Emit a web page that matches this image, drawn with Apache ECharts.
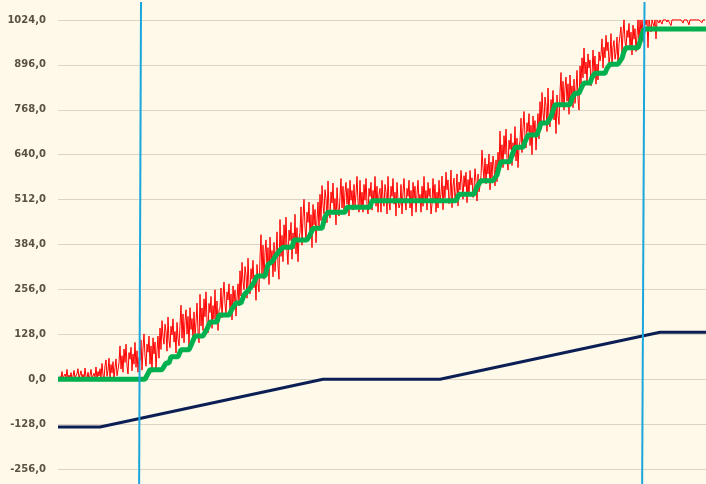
<!DOCTYPE html>
<html>
<head>
<meta charset="utf-8">
<script src="https://cdn.jsdelivr.net/npm/echarts@6/dist/echarts.min.js"></script>
<style>
html,body{margin:0;padding:0;background:#FFF9E9;overflow:hidden;width:706px;height:484px;}
#c{position:absolute;left:0;top:-25px;width:706px;height:539px;}
</style>
</head>
<body>
<div id="c"></div>
<script>
// Y axis ticks (-384 and 1152 fall just outside the visible window)
var yTicks = [-384, -256, -128, 0, 128, 256, 384, 512, 640, 768, 896, 1024, 1152];

// Navy reference ramp: [x, value]
var navyLine = [[0,-136],[42,-136],[265,0],[382,0],[602,134],[648,134]];

// Green stepped output: [x, value]
var greenLine = [
 [0,0],[87,0],[92,27],[104,27],[108,46],[111,46],[113,64],[120,64],[123,84],[131,84],
 [134,103],[137,123],[145,123],[149,143],[152,163],[159,163],[161,183],[171,183],[174,200],[178,217],
 [183,217],[186,240],[192,259],[196,276],[199,294],[207,294],[210,327],[214,335],[217,349],[222,368],
 [225,376],[234,376],[236,397],[249,397],[252,411],[255,430],[264,430],[267,463],[270,476],[287,476],
 [289,490],[312,490],[314,509],[398,509],[401,527],[416,527],[419,549],[423,566],[435,566],[439,582],
 [441,604],[443,620],[452,620],[454,639],[457,661],[465,661],[467,677],[470,696],[479,696],[481,712],
 [483,730],[489,730],[493,748],[495,765],[497,782],[512,782],[514,801],[517,815],[521,815],[524,834],
 [526,844],[532,844],[534,860],[537,872],[547,872],[549,886],[552,898],[560,898],[564,915],[566,934],
 [568,945],[580,945],[582,962],[584,981],[586,998],[648,998]
];

// Red noisy input, one sample per unit starting at x=2
var redValues = [
 10,0,22,3,0,15,6,28,0,12,2,19,0,8,25,4,0,16,30,2,
 0,24,5,14,0,32,8,2,20,0,11,28,3,0,17,6,35,1,22,9,
 30,5,45,12,0,38,55,8,25,60,3,42,18,50,0,33,58,10,27,47,
 95,29,67,20,86,48,100,38,15,76,57,91,24,72,43,105,34,81,20,62,
 54,112,26,89,129,66,37,100,77,123,43,95,20,118,72,106,31,83,123,60,
 146,85,167,121,100,157,136,80,177,111,90,151,126,172,106,136,75,162,116,95,
 154,211,117,186,104,167,198,129,179,92,204,142,173,111,192,123,161,217,136,104,
 242,152,203,139,229,178,249,165,132,216,190,236,145,210,171,255,158,223,139,197,
 203,260,175,237,277,215,186,249,226,272,192,243,169,266,220,254,180,232,272,209,
 309,237,333,279,255,321,297,231,345,267,243,315,285,339,261,297,225,327,273,249,
 345,412,300,382,285,360,397,315,375,270,405,330,367,292,390,307,352,420,322,285,
 455,350,410,335,440,380,462,365,327,425,395,447,342,417,372,470,357,432,335,402,
 418,491,382,462,513,433,397,476,447,505,404,469,375,498,440,484,389,455,505,426,
 527,452,552,496,471,540,515,446,565,484,459,534,502,559,477,515,440,546,490,465,
 521,572,488,550,476,533,561,499,544,465,567,510,538,482,555,493,527,578,505,476,
 567,488,533,476,555,510,572,499,471,544,521,561,482,538,505,578,493,550,476,527,
 544,476,567,516,493,555,533,471,578,505,482,550,521,572,499,533,465,561,510,488,
 499,555,471,533,572,510,482,544,521,567,488,538,465,561,516,550,476,527,567,505,
 527,476,550,493,578,505,538,482,561,521,544,471,499,572,510,555,476,533,488,567,
 506,528,579,483,551,517,590,540,568,500,523,596,489,551,573,511,534,585,494,562,
 539,595,559,513,580,549,590,503,569,523,595,554,574,518,544,600,564,508,585,534,
 551,580,653,602,568,630,557,613,585,642,540,619,574,636,608,551,625,563,647,596,
 707,616,668,603,694,642,713,629,596,681,655,700,609,674,635,720,622,687,603,661,
 679,744,646,718,763,692,659,731,705,757,666,724,640,750,698,737,653,711,757,685,
 791,713,817,758,732,804,778,706,830,745,719,797,765,823,739,778,700,810,752,726,
 817,874,780,849,767,830,861,792,842,755,867,805,836,774,855,786,824,880,799,767,
 893,841,916,859,944,870,904,847,927,887,910,836,864,938,876,921,841,898,853,933,
 907,926,970,887,946,916,980,936,961,902,921,985,892,946,965,912,931,975,897,956,
 954,1004,929,984,1024,964,939,994,974,1014,944,989,924,1009,969,999,934,979,1024,959,
 1024,985,1024,1024,960,1024,1010,1024,945,1024,1024,990,1024,1024,1005,1024,970,1024,1024,1015,
 1024,1024,1012,1024,1024,1024,1024,1018,1024,1024,1024,1008,1024,1024,1024,1024,1020,1024,1024,1024,
 1024,1024,1024,1015,1024,1024,1024,1024,1024,1010,1024,1024,1024,1024,1019,1024,1024,1024,1024,1024,
 1024,1024,1016,1024,1024,1024
];

// Blue vertical markers (slightly slanted): [x, value]
var markerA = [[83,1075],[81,-384]];
var markerB = [[586.5,1075],[584,-384]];

var redLine = redValues.map(function(v,i){ return [2 + i, v]; });

var chart = echarts.init(document.getElementById('c'), null, {renderer:'canvas'});
chart.setOption({
  backgroundColor: '#FFF9E9',
  animation: false,
  grid: {left: 58, right: 0, top: 0, bottom: 0, containLabel: false, outerBoundsMode: 'none'},
  xAxis: {
    type: 'value', min: 0, max: 648, show: false
  },
  yAxis: {
    type: 'value', min: yTicks[0], max: yTicks[yTicks.length-1], interval: 128,
    axisLine: {show: false}, axisTick: {show: false},
    splitLine: {show: true, lineStyle: {color: '#DCD3C4', width: 1}},
    axisLabel: {
      margin: 12, color: '#5A5141', fontFamily: 'DejaVu Sans', fontWeight: 'bold', fontSize: 10,
      formatter: function(v){ return v.toFixed(1).replace('.', ','); }
    }
  },
  series: [
    {type:'line', data: navyLine, symbol:'none', lineStyle:{color:'#0B1F55', width:3}, z:2},
    {type:'line', data: redLine, symbol:'none', lineStyle:{color:'#FF0000', width:1}, z:3},
    {type:'line', data: greenLine, symbol:'none', lineStyle:{color:'#00B04F', width:5}, z:4},
    {type:'line', data: markerA, symbol:'none', lineStyle:{color:'#1BA6DE', width:2}, z:5},
    {type:'line', data: markerB, symbol:'none', lineStyle:{color:'#1BA6DE', width:2}, z:5}
  ]
});
</script>
</body>
</html>
